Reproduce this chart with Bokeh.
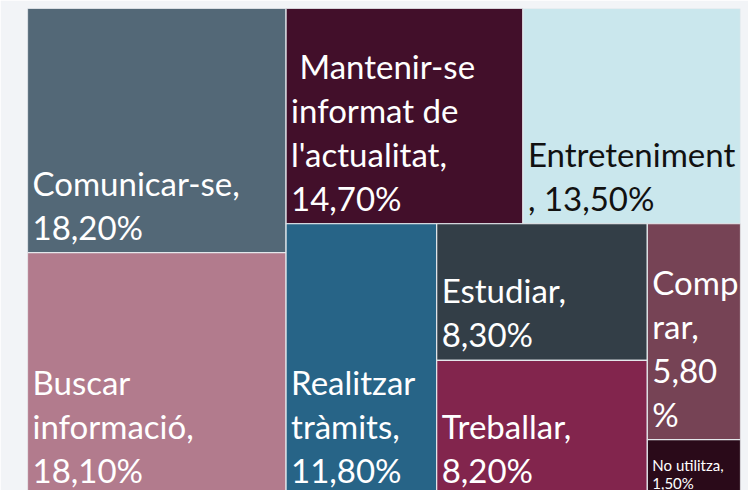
from bokeh.plotting import figure
from bokeh.models import ColumnDataSource, Range1d
from bokeh.core.properties import value
from bokeh.embed import file_html
from bokeh.resources import INLINE

# ---- data ----
categories = ["Comunicar-se", "Buscar informació", "Mantenir-se informat de l'actualitat",
              "Entreteniment", "Realitzar tràmits", "Estudiar", "Treballar", "Comprar", "No utilitza"]
shares = [18.2, 18.1, 14.7, 13.5, 11.8, 8.3, 8.2, 5.8, 1.5]
labels = ["Comunicar-se,\n18,20%", "Buscar\ninformació,\n18,10%",
          "\u00a0Mantenir-se\ninformat de\nl'actualitat,\n14,70%", "Entreteniment\n, 13,50%",
          "Realitzar\ntràmits,\n11,80%", "Estudiar,\n8,30%", "Treballar,\n8,20%",
          "Comp\nrar,\n5,80\n%", "No utilitza,\n1,50%"]
colors = ["#536877", "#b27b8d", "#420f2a", "#cae7ed", "#276487", "#333e47",
          "#82254d", "#764355", "#2a0a19"]
label_colors = ["white", "white", "white", "#111111", "white", "white", "white", "white", "white"]
small = [False] * 8 + [True]

# ---- squarified layout ----
W, H = 713.0, 487.0


def worst(row, w):
    s = sum(row)
    return max(max(w * w * r / (s * s), (s * s) / (w * w * r)) for r in row)


def squarify(vals, x, y, dx, dy):
    total = sum(vals)
    areas = [v * dx * dy / total for v in vals]
    rects = []
    i = 0
    while i < len(areas):
        w = min(dx, dy)
        row = [areas[i]]
        j = i + 1
        while j < len(areas) and worst(row + [areas[j]], w) <= worst(row, w):
            row.append(areas[j])
            j += 1
        s = sum(row)
        if dx >= dy:
            cw = s / dy
            yy = y
            for a in row:
                h = a / cw
                rects.append((x, yy, cw, h))
                yy += h
            x += cw
            dx -= cw
        else:
            rh = s / dx
            xx = x
            for a in row:
                ww = a / rh
                rects.append((xx, y, ww, rh))
                xx += ww
            y += rh
            dy -= rh
        i = j
    return rects


rects = squarify(shares, 0.0, 0.0, W, H)
left = [r[0] for r in rects]
right = [r[0] + r[2] for r in rects]
top = [r[1] for r in rects]
bottom = [r[1] + r[3] for r in rects]

src = ColumnDataSource(dict(left=left, right=right, top=top, bottom=bottom, color=colors,
                            name=categories))

big_idx = [k for k in range(len(shares)) if not small[k]]
sm_idx = [k for k in range(len(shares)) if small[k]]
big_src = ColumnDataSource(dict(x=[left[k] + 5 for k in big_idx], y=[bottom[k] for k in big_idx],
                                text=[labels[k] for k in big_idx],
                                c=[label_colors[k] for k in big_idx]))
sm_src = ColumnDataSource(dict(x=[left[k] + 5 for k in sm_idx], y=[bottom[k] for k in sm_idx],
                               text=[labels[k] for k in sm_idx],
                               c=[label_colors[k] for k in sm_idx]))

FRAME_H = 482
p = figure(width=748, height=490, output_backend="svg", toolbar_location=None,
           x_range=Range1d(0, W), y_range=Range1d(FRAME_H, 0),
           x_axis_location=None, y_axis_location=None,
           min_border_left=27, min_border_right=8, min_border_top=8, min_border_bottom=0)
p.grid.visible = False
p.outline_line_color = None
p.background_fill_color = "#f2f4f7"
p.border_fill_color = "#f2f4f7"

p.quad(left="left", right="right", top="top", bottom="bottom", source=src,
       fill_color="color", line_color="#e4e8ec", line_width=1.2)

p.text(x="x", y="y", text="text", source=big_src, text_color="c",
       text_font=value("Lato"), text_font_size="33px", text_baseline="bottom",
       text_align="left", text_line_height=1.1, y_offset=-6)
p.text(x="x", y="y", text="text", source=sm_src, text_color="c",
       text_font=value("Lato"), text_font_size="15px", text_baseline="bottom",
       text_align="left", text_line_height=1.05, y_offset=-3)

open("out.html", "w").write(file_html(p, INLINE))
